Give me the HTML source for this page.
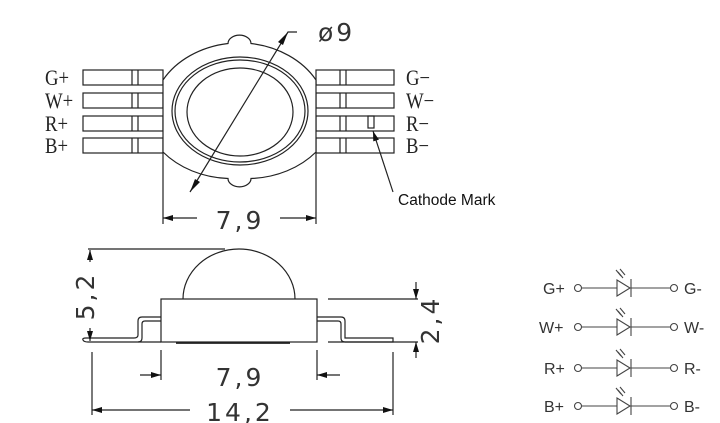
<!DOCTYPE html>
<html><head><meta charset="utf-8"><style>
html,body{margin:0;padding:0;background:#fff;}
svg{display:block;}
.ser{font-family:"Liberation Serif",serif;font-size:22px;fill:#222;}
.dim{font-family:"DejaVu Sans","Liberation Sans",sans-serif;font-size:25px;fill:#333;font-weight:normal;letter-spacing:3px;}
.cir{font-family:"Liberation Sans",sans-serif;font-size:16px;fill:#333;}
</style></head><body>
<svg width="720" height="423" viewBox="0 0 720 423" xmlns="http://www.w3.org/2000/svg">
<defs>
<marker id="ar" viewBox="0 0 10 6" refX="10" refY="3" markerWidth="12" markerHeight="6" orient="auto" markerUnits="userSpaceOnUse"><path d="M0,0 L10,3 L0,6 z" fill="#111"/></marker>
</defs>
<g fill="none" stroke="#222" stroke-width="1.2">
<g>
<rect x="83" y="70" width="80" height="15"/><rect x="83" y="93" width="80" height="15"/>
<rect x="83" y="116" width="80" height="15"/><rect x="83" y="138" width="80" height="15"/>
<path d="M132,70V85M138,70V85M132,93V108M138,93V108M132,116V131M138,116V131M132,138V153M138,138V153"/>
</g>
<g>
<rect x="316" y="70" width="78" height="15"/><rect x="316" y="93" width="78" height="15"/>
<rect x="316" y="116" width="78" height="15"/><rect x="316" y="138" width="78" height="15"/>
<path d="M340,70V85M346,70V85M340,93V108M346,93V108M340,116V131M346,116V131M340,138V153M346,138V153"/>
<rect x="368" y="116" width="6" height="12"/>
</g>
<path d="M163,80 A89,72 0 0 1 228,43.5 A11,8 0 0 1 251,43.5 A89,72 0 0 1 316,80 L316,152 A89,72 0 0 1 251,178.5 A11,8 0 0 1 228,178.5 A89,72 0 0 1 163,152 Z" fill="#fff"/>
<ellipse cx="240" cy="111" rx="68" ry="54"/>
<ellipse cx="240" cy="111" rx="65" ry="51"/>
<ellipse cx="240" cy="112" rx="53" ry="44"/>
<path d="M190,192 L288,32 L297,32"/>
<path d="M163,152V224M316,152V224"/>
<path d="M197,218H163" marker-end="url(#ar)"/>
<path d="M280,218H316" marker-end="url(#ar)"/>
<path d="M393,192L373,131" marker-end="url(#ar)"/>
<rect x="161" y="299" width="156" height="43" fill="#fff"/>
<path d="M183,299 A56,50 0 0 1 295,299"/>
<path d="M161,317H142Q138,317 138,321V335Q138,338 134,338H86Q82,338 83,340Q84,342 88,342H161"/>
<path d="M161,321H145Q142,321 142,324V338Q142,342 138,342"/>
<path d="M317,317H341Q345,317 345,321V338H393V342H345Q341,342 341,338V324Q341,321 338,321H317"/>
<path d="M176,343H290" stroke-width="1.8"/>
<path d="M88,249H225"/>
<path d="M90,262V250" marker-end="url(#ar)"/>
<path d="M90,328V341" marker-end="url(#ar)"/>
<path d="M328,299H418M328,342H418"/>
<path d="M416,282V299" marker-end="url(#ar)"/>
<path d="M416,358V342" marker-end="url(#ar)"/>
<path d="M161,350V380M317,350V380M92,352V415M393,352V415"/>
<path d="M140,375H161" marker-end="url(#ar)"/>
<path d="M340,375H317" marker-end="url(#ar)"/>
<path d="M190,410H92" marker-end="url(#ar)"/>
<path d="M290,410H393" marker-end="url(#ar)"/>
</g>
<path d="M288,32 L283,45 L278,42 Z" fill="#111"/>
<path d="M190,192 L195,179 L200,182 Z" fill="#111"/>
<g class="ser">
<g transform="translate(45,0) scale(0.85,1)"><text x="0" y="85">G+</text><text x="0" y="108">W+</text><text x="0" y="131">R+</text><text x="0" y="153">B+</text></g>
<g transform="translate(406,0) scale(0.85,1)"><text x="0" y="85">G−</text><text x="0" y="108">W−</text><text x="0" y="131">R−</text><text x="0" y="153">B−</text></g>
</g>
<text x="318" y="41" class="dim" font-size="27">ø9</text>
<text x="240" y="229" class="dim" text-anchor="middle">7,9</text>
<text x="240" y="386" class="dim" text-anchor="middle">7,9</text>
<text x="240" y="421" class="dim" text-anchor="middle">14,2</text>
<text class="dim" text-anchor="middle" transform="translate(94,296) rotate(-90)">5,2</text>
<text class="dim" text-anchor="middle" transform="translate(439,320) rotate(-90)">2,4</text>
<text x="398" y="205" font-family="Liberation Sans,sans-serif" font-size="15.5" fill="#111">Cathode Mark</text>
<g stroke="#444" stroke-width="1.1" fill="none">
<g id="row">
<circle cx="578" cy="288" r="3.5" fill="#fff"/><circle cx="674" cy="288" r="3.5" fill="#fff"/>
<path d="M581.5,288H670.5"/>
<path d="M617,280V296L630,288Z" fill="#fff"/>
<path d="M631,279V297"/>
<path d="M621,276L616,270M625,275L620,269M623,278L618,272"/>
</g>
<use href="#row" y="39"/><use href="#row" y="80"/><use href="#row" y="118"/>
</g>
<g class="cir">
<text x="543" y="294">G+</text><text x="684" y="294">G-</text>
<text x="539" y="333">W+</text><text x="684" y="333">W-</text>
<text x="544" y="374">R+</text><text x="684" y="374">R-</text>
<text x="544" y="412">B+</text><text x="684" y="412">B-</text>
</g>
</svg>
</body></html>
